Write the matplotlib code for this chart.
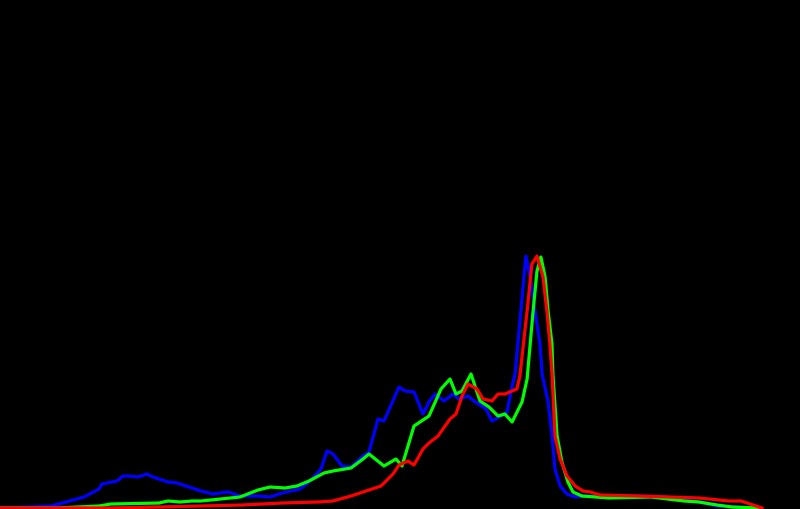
import matplotlib
matplotlib.use("Agg")
import matplotlib.pyplot as plt

# Intensity levels (0-255) and histogram heights (arbitrary units) per channel
blue_levels = [0, 10, 17, 22, 28, 33, 34, 39, 41, 43, 46, 49, 51, 56, 59, 63, 67, 71, 76, 80, 86, 90, 94,
               100, 103, 107, 109, 111, 114, 117, 121, 123, 126, 128, 133, 135, 138, 141, 143, 145, 148,
               151, 153, 156, 158, 162, 164, 167, 169, 170.7, 171.7, 175.3, 176.7, 178.3, 180, 180.7,
               182.7, 184, 185, 186.7, 189, 191.7, 195, 213, 222, 233, 239, 246, 250]
blue_counts = [1, 2, 3, 7, 12, 20, 25, 28, 33, 33, 32, 35, 32, 27, 26, 22, 18, 15, 17, 13, 13, 12, 16,
               20, 27, 40, 58, 55, 43, 42, 53, 57, 90, 88, 122, 118, 117, 95, 107, 115, 108,
               115, 110, 113, 108, 100, 88, 93, 97, 123, 135, 253, 232, 198, 165, 135,
               107, 73, 40, 23, 15, 12, 13, 13, 12, 7, 3, 2, 1]

green_levels = [0, 19, 26, 33, 37, 53, 56, 60, 64, 67, 80, 86, 90, 95, 99, 103, 108, 111, 117, 121, 123,
                128, 132, 134, 138, 139, 143, 147, 150, 152, 154, 157, 160, 163, 166, 168.3, 170.7, 174,
                175.7, 177.7, 179, 180.3, 181.7, 182.7, 184, 184.3, 185.7, 187.3, 189.3, 191, 194, 203,
                217, 228, 233, 239, 244, 253]
green_counts = [1, 1, 2, 3, 5, 6, 8, 7, 8, 8, 12, 19, 22, 21, 23, 28, 36, 38, 41, 50, 55,
                43, 50, 43, 83, 85, 93, 120, 130, 115, 118, 135, 108, 102, 93, 95, 87, 107,
                130, 198, 238, 252, 232, 198, 165, 135, 73, 47, 27, 17, 13, 11,
                12, 8, 7, 4, 2, 1]

red_levels = [0, 37, 67, 81, 94, 106, 111, 117, 122, 127, 131, 133, 136, 138, 141, 143, 146, 150, 152,
              154, 156, 159, 161, 164, 166, 168.3, 170.7, 172.3, 173.3, 175.7, 177.3, 179, 181, 182.3,
              183.3, 184, 185, 186.7, 189, 191.7, 194.3, 196.7, 200, 213, 233, 243, 247, 253, 254]
red_counts = [1, 1, 3, 4, 6, 7, 8, 13, 18, 23, 35, 44, 48, 44, 60, 66, 73, 90, 95,
              113, 125, 120, 110, 108, 115, 115, 118, 120, 133, 198, 245, 253, 232, 198,
              165, 135, 73, 50, 33, 23, 18, 17, 14, 13, 11, 8, 8, 2, 1]

fig = plt.figure(figsize=(8, 5.1), dpi=100, facecolor="black")
ax = fig.add_axes([0, 0, 1, 1])
ax.set_facecolor("black")

ax.plot(blue_levels, blue_counts, color=(0, 0, 1), lw=2.3, solid_joinstyle="round")
ax.plot(green_levels, green_counts, color=(0, 1, 0), lw=2.3, solid_joinstyle="round")
ax.plot(red_levels, red_counts, color=(1, 0, 0), lw=2.3, solid_joinstyle="round")

ax.set_xlim(0, 800 / 3)
ax.set_ylim(0, 510)
ax.axis("off")

fig.savefig("out.png", dpi=100, facecolor="black")
